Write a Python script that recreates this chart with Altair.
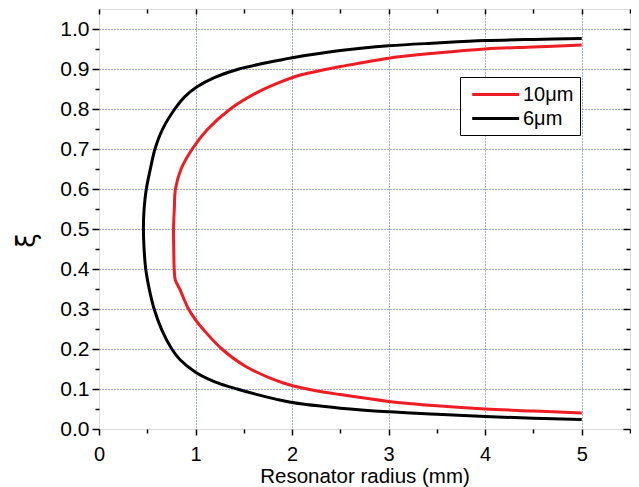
import altair as alt
import pandas as pd

# ---- data ----
series_names = ["10μm", "6μm"]
series_colors = ["#ee1d23", "#000000"]

black_x = [5.0, 4.5, 4.0, 3.5, 3.0, 2.5, 2.0, 1.84, 1.43, 1.2, 1.0, 0.84, 0.754, 0.65, 0.571,
           0.522, 0.484, 0.467, 0.46, 0.467, 0.49, 0.53, 0.58, 0.655, 0.785, 0.89, 1.02,
           1.2, 1.45, 1.88, 2.0, 2.5, 3.0, 3.5, 4.0, 4.5, 5.0]
black_xi = [0.024, 0.027, 0.031, 0.037, 0.043, 0.052, 0.066, 0.074, 0.1, 0.118, 0.142, 0.173,
            0.2, 0.248, 0.3, 0.348, 0.4, 0.45, 0.5, 0.55, 0.6, 0.648, 0.7, 0.748, 0.8, 0.831, 0.856,
            0.879, 0.9, 0.9225, 0.928, 0.946, 0.958, 0.965, 0.971, 0.974, 0.976]

red_x = [5.0, 4.5, 4.0, 3.5, 3.0, 2.5, 2.156, 1.91, 1.516, 1.273, 1.083, 1.0, 0.927, 0.84,
         0.79, 0.779, 0.774, 0.772, 0.78, 0.792, 0.85, 0.966, 1.12, 1.36, 1.62, 1.845, 2.086,
         2.33, 2.5, 3.0, 3.5, 4.0, 4.5, 5.0]
red_xi = [0.04, 0.045, 0.05, 0.058, 0.069, 0.086, 0.1, 0.115, 0.157, 0.2, 0.248, 0.273, 0.3,
          0.348, 0.373, 0.4, 0.45, 0.5, 0.55, 0.6, 0.65, 0.7, 0.748, 0.8, 0.839, 0.864, 0.885,
          0.898, 0.906, 0.927, 0.94, 0.95, 0.955, 0.96]

x_tick_values = [0, 0.5, 1, 1.5, 2, 2.5, 3, 3.5, 4, 4.5, 5, 5.5]
y_tick_values = [0, 0.05, 0.1, 0.15, 0.2, 0.25, 0.3, 0.35, 0.4, 0.45, 0.5, 0.55, 0.6, 0.65,
                 0.7, 0.75, 0.8, 0.85, 0.9, 0.95, 1.0]

rows = []
for i, (xv, yv) in enumerate(zip(red_x, red_xi)):
    rows.append({"series": series_names[0], "idx": i, "x": xv, "xi": yv})
for i, (xv, yv) in enumerate(zip(black_x, black_xi)):
    rows.append({"series": series_names[1], "idx": i, "x": xv, "xi": yv})
df = pd.DataFrame(rows)

FONT = "Liberation Sans"
GRID_COLOR = "#4a5cc4"
x_major = "round(datum.value*2) % 2 === 0"
y_major = "round(datum.value*20) % 2 === 0"

x_scale = alt.Scale(domain=[0, 5.5], nice=False, zero=False)
y_scale = alt.Scale(domain=[0, 1.05], nice=False, zero=False)

base = alt.Chart(df)

lines = base.mark_line(strokeWidth=3, clip=True, interpolate="catmull-rom").encode(
    x=alt.X("x:Q", scale=x_scale, axis=alt.Axis(
        orient="bottom", values=x_tick_values, title="Resonator radius (mm)",
        tickSize={"condition": {"test": x_major, "value": 6}, "value": 4},
        labelExpr=f"{x_major} && datum.value < 5.4 ? format(datum.value, 'd') : ''",
        grid=True, gridColor=GRID_COLOR, gridDash=[1, 2], gridWidth=1,
        gridOpacity={"condition": {"test": f"{x_major} && datum.value > 0.1 && datum.value < 5.4", "value": 1}, "value": 0},
        domain=False, tickColor="black", tickWidth=1.5,
        labelFont=FONT, labelFontSize=20, labelColor="black", labelPadding=9,
        labelFlush=False, labelOverlap=False,
        titleFont=FONT, titleFontSize=20.5, titleFontWeight="normal", titleColor="black",
        titleBaseline="alphabetic", titleY=53, titleAlign="center",
    )),
    y=alt.Y("xi:Q", scale=y_scale, axis=alt.Axis(
        orient="left", values=y_tick_values, title="ξ",
        tickSize={"condition": {"test": y_major, "value": 7}, "value": 4},
        labelExpr=f"{y_major} ? format(datum.value, '.1f') : ''",
        grid=True, gridColor=GRID_COLOR, gridDash=[1, 2], gridWidth=1,
        gridOpacity={"condition": {"test": f"{y_major} && datum.value > 0.01", "value": 1}, "value": 0},
        domain=False, tickColor="black", tickWidth=1.5,
        labelFont=FONT, labelFontSize=21, labelColor="black", labelPadding=3,
        labelFlush=False, labelOverlap=False,
        titleFont="DejaVu Sans", titleFontSize=26, titleFontWeight="normal", titleColor="black",
        titleX=-73, titleY=231, titleAngle=270, titleAlign="center", titleBaseline="middle",
    )),
    color=alt.Color("series:N", scale=alt.Scale(domain=series_names, range=series_colors),
                    legend=alt.Legend(
                        orient="none", legendX=361, legendY=68, title=None,
                        fillColor="white", strokeColor="black", padding=6,
                        labelFont=FONT, labelFontSize=20, labelColor="black", labelLimit=0,
                        symbolType="M-0.53,0H4.17", symbolStrokeWidth=3, symbolSize=400,
                        rowPadding=2, labelOffset=34,
                    )),
    order="idx:Q",
)

mirror = base.mark_point(opacity=0).encode(
    x=alt.X("x:Q", scale=x_scale, axis=alt.Axis(
        orient="top", values=x_tick_values, title=None, labels=False, grid=False, domain=False,
        tickColor="black", tickWidth=1.5,
        tickSize={"condition": {"test": x_major, "value": -5}, "value": -4},
    )),
    y=alt.Y("xi:Q", scale=y_scale, axis=alt.Axis(
        orient="right", values=y_tick_values, title=None, labels=False, grid=False, domain=False,
        tickColor="black", tickWidth=1.5,
        tickSize={"condition": {"test": y_major, "value": -7}, "value": -4},
    )),
)

chart = alt.layer(lines, mirror).resolve_axis(x="independent", y="independent").properties(
    width=531, height=420,
    autosize=alt.AutoSizeParams(type="none"),
    padding={"left": 91, "top": 1, "right": 1, "bottom": 58},
).configure_view(stroke="black", strokeWidth=2).configure(background="white")

chart.save("out.html", embed_options={"renderer": "svg", "actions": False})
